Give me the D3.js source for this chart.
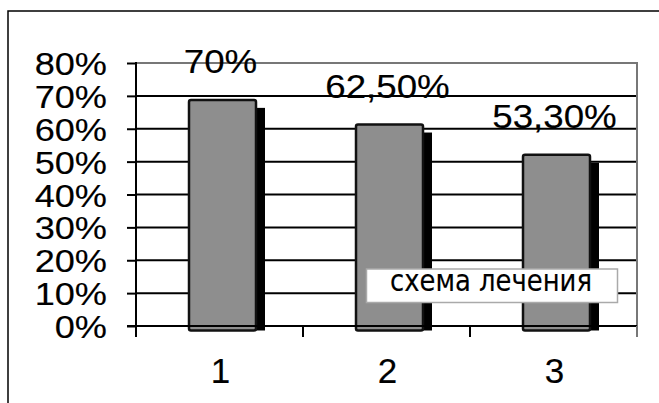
<!DOCTYPE html>
<html>
<head>
    <meta charset="utf-8">
    <title>схема лечения</title>
    <script src="https://d3js.org/d3.v7.min.js"></script>
    <style>
        body { margin: 0; background: #fff; }
        text { font-family: "Liberation Sans", Arial, sans-serif; fill: #000; stroke: #000; stroke-width: 0.15px; }
        .legend-text { font-family: "DejaVu Sans", Verdana, sans-serif; }
    </style>
</head>
<body>
    <div id="chart"></div>

    <script>
        // данные
        const categories = ["1", "2", "3"];
        const values = [0.70, 0.625, 0.533];
        const valueLabels = ["70%", "62,50%", "53,30%"];
        const yTicks = [0, 0.1, 0.2, 0.3, 0.4, 0.5, 0.6, 0.7, 0.8];
        const legendLabel = "схема лечения";

        const W = 659, H = 403;
        const plot = {left: 136, right: 637, top: 63, bottom: 326};

        const svg = d3.select("#chart")
            .append("svg")
            .attr("width", W)
            .attr("height", H);

        // внешняя рамка (видны только верх и левый край)
        svg.append("path")
            .attr("d", `M8,${H} L8,11 L${W},11`)
            .attr("fill", "none")
            .attr("stroke", "#000")
            .attr("stroke-width", 1.5);

        const x = d3.scaleBand()
            .domain(categories)
            .range([plot.left, plot.right]);

        const y = d3.scaleLinear()
            .domain([0, 0.8])
            .range([plot.bottom, plot.top]);

        // растянуть текст по горизонтали
        function stretch(sel, k) {
            sel.each(function() {
                const w = this.getComputedTextLength();
                d3.select(this)
                    .attr("textLength", w * k)
                    .attr("lengthAdjust", "spacingAndGlyphs");
            });
        }

        // сетка
        svg.append("g")
            .selectAll("line")
            .data(yTicks.filter(d => d > 0))
            .enter()
            .append("line")
            .attr("x1", plot.left)
            .attr("x2", plot.right)
            .attr("y1", d => y(d))
            .attr("y2", d => y(d))
            .attr("stroke", d => d === 0.8 ? "#777" : "#000")
            .attr("stroke-width", 2);

        // рамка области построения (правый край)
        svg.append("line")
            .attr("x1", plot.right).attr("x2", plot.right)
            .attr("y1", plot.top - 1).attr("y2", plot.bottom + 11)
            .attr("stroke", "#777")
            .attr("stroke-width", 2);

        // ось Y
        const yAxis = svg.append("g")
            .attr("transform", `translate(${plot.left},0)`)
            .call(d3.axisLeft(y)
                .tickValues(yTicks)
                .tickSize(9)
                .tickPadding(0)
                .tickFormat(d3.format(".0%")));
        yAxis.select(".domain")
            .attr("d", `M0,${plot.top - 1}V${plot.bottom + 11}`)
            .attr("stroke", "#000")
            .attr("stroke-width", 2);
        yAxis.selectAll(".tick line")
            .attr("stroke", "#000")
            .attr("stroke-width", 2);
        yAxis.selectAll(".tick text")
            .attr("x", -29)
            .attr("dy", "0.36em")
            .style("font-size", "32px")
            .style("font-family", "'Liberation Sans', Arial, sans-serif")
            .call(stretch, 1.13);

        // столбцы: тень и лицевая грань
        const barW = 67;
        const barOff = (x.bandwidth() - barW) / 2 + 3;

        svg.append("g")
            .selectAll("rect")
            .data(values)
            .enter()
            .append("rect")
            .attr("x", (d, i) => x(categories[i]) + barOff + 9)
            .attr("y", d => y(d) + 12)
            .attr("width", barW)
            .attr("height", d => y(0) - y(d) - 7.5)
            .attr("fill", "#000");

        svg.append("g")
            .selectAll("rect")
            .data(values)
            .enter()
            .append("rect")
            .attr("x", (d, i) => x(categories[i]) + barOff)
            .attr("y", d => y(d) + 4)
            .attr("width", barW)
            .attr("height", d => y(0) - y(d) + 0.5)
            .attr("rx", 2)
            .attr("fill", "#8e8e8e")
            .attr("stroke", "#111")
            .attr("stroke-width", 2.5);

        // ось X
        const xAxis = svg.append("g")
            .attr("transform", `translate(0,${plot.bottom})`);
        xAxis.append("line")
            .attr("x1", plot.left - 9)
            .attr("x2", plot.right)
            .attr("stroke", "#000")
            .attr("stroke-width", 2);
        xAxis.selectAll(".xtick")
            .data(categories.map(c => x(c)).concat([plot.right]))
            .enter()
            .append("line")
            .attr("class", "xtick")
            .attr("x1", d => d).attr("x2", d => d)
            .attr("y1", 0).attr("y2", 11)
            .attr("stroke", d => d === plot.right ? "#777" : "#000")
            .attr("stroke-width", 2);
        xAxis.selectAll("text")
            .data(categories)
            .enter()
            .append("text")
            .attr("x", d => x(d) + x.bandwidth() / 2 + 1)
            .attr("y", 57)
            .attr("text-anchor", "middle")
            .style("font-size", "35px")
            .text(d => d);

        // подписи значений
        svg.append("g")
            .selectAll("text")
            .data(values)
            .enter()
            .append("text")
            .attr("x", (d, i) => x(categories[i]) + x.bandwidth() / 2 + 1)
            .attr("y", d => y(d) - 23)
            .attr("text-anchor", "middle")
            .style("font-size", "34px")
            .text((d, i) => valueLabels[i])
            .call(stretch, 1.08);

        // легенда
        const lg = svg.append("g");
        lg.append("rect")
            .attr("x", 366.5)
            .attr("y", 269)
            .attr("width", 251)
            .attr("height", 33.5)
            .attr("fill", "#fff")
            .attr("stroke", "#aaa")
            .attr("stroke-width", 1.5);
        lg.append("text")
            .attr("class", "legend-text")
            .attr("x", 491)
            .attr("y", 290.5)
            .attr("text-anchor", "middle")
            .style("font-size", "31px")
            .text(legendLabel)
            .attr("textLength", 202)
            .attr("lengthAdjust", "spacingAndGlyphs");
    </script>
</body>
</html>
